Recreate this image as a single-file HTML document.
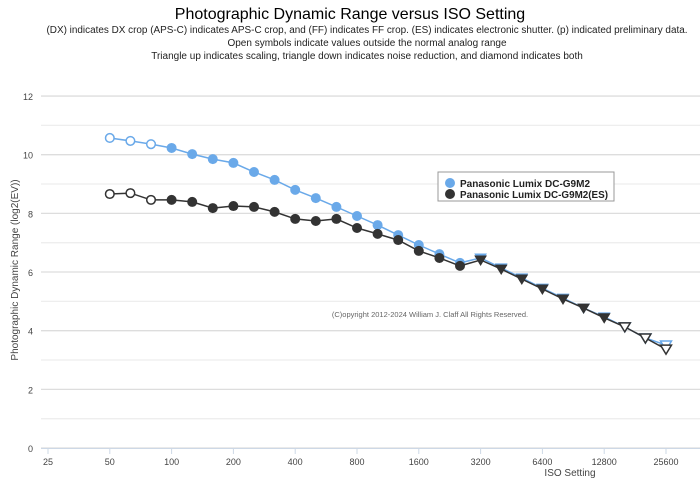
<!DOCTYPE html>
<html><head><meta charset="utf-8"><style>
html,body{margin:0;padding:0;background:#fff;width:700px;height:483px;overflow:hidden}
svg{display:block;font-family:"Liberation Sans",sans-serif}
</style></head><body>
<svg id="s" width="700" height="483" xmlns="http://www.w3.org/2000/svg">
<text x="350" y="19" text-anchor="middle" font-size="16" fill="#000">Photographic Dynamic Range versus ISO Setting</text>
<text x="367" y="33" text-anchor="middle" font-size="10" textLength="641" lengthAdjust="spacingAndGlyphs" fill="#222">(DX) indicates DX crop (APS-C) indicates APS-C crop, and (FF) indicates FF crop. (ES) indicates electronic shutter. (p) indicated preliminary data.</text>
<text x="367" y="46" text-anchor="middle" font-size="10" fill="#222">Open symbols indicate values outside the normal analog range</text>
<text x="367" y="59" text-anchor="middle" font-size="10" fill="#222">Triangle up indicates scaling, triangle down indicates noise reduction, and diamond indicates both</text>
<text transform="translate(18,270) rotate(-90)" text-anchor="middle" font-size="10" fill="#444">Photographic Dynamic Range (log2(EV))</text>
<text x="570" y="476" text-anchor="middle" font-size="10" fill="#444">ISO Setting</text>
<text x="430" y="317" text-anchor="middle" font-size="7.5" fill="#666">(C)opyright 2012-2024 William J. Claff All Rights Reserved.</text>
<g id="g"></g>
<rect x="438" y="172" width="176" height="29" fill="#fff" stroke="#999" stroke-width="1"/>
<circle cx="450" cy="183" r="5" fill="#6aa9e9"/>
<text x="460" y="187" font-size="10" font-weight="bold" fill="#222" textLength="130" lengthAdjust="spacingAndGlyphs">Panasonic Lumix DC-G9M2</text>
<circle cx="450" cy="194" r="5" fill="#333"/>
<text x="460" y="198" font-size="10" font-weight="bold" fill="#222" textLength="148" lengthAdjust="spacingAndGlyphs">Panasonic Lumix DC-G9M2(ES)</text>
</svg>
<script>
var g=document.getElementById('g'),h='';
function Y(v){return 448-v*29.33}
function X(iso){return 48+61.8*Math.log2(iso/25)}
for(var v=0;v<=12;v++){h+='<line x1="41" x2="700" y1="'+Y(v)+'" y2="'+Y(v)+'" stroke="'+(v%2?'#eee':'#ddd')+'" stroke-width="1.3"/>';}
h+='<line x1="41" x2="700" y1="448.5" y2="448.5" stroke="#cdd8e6"/>';
for(v=0;v<=12;v+=2)h+='<text x="33" y="'+(Y(v)+4)+'" text-anchor="end" font-size="9" fill="#444">'+v+'</text>';
var L=[25,50,100,200,400,800,1600,3200,6400,12800,25600];
L.forEach(function(i){var x=X(i);h+='<line x1="'+x+'" x2="'+x+'" y1="449" y2="454" stroke="#cdd8e6"/><text x="'+x+'" y="465" text-anchor="middle" font-size="9" fill="#444">'+i+'</text>';});
var B=[10.57,10.47,10.36,10.23,10.02,9.85,9.72,9.41,9.14,8.80,8.52,8.22,7.91,7.60,7.26,6.92,6.61,6.31,6.48,6.14,5.80,5.45,5.11,4.77,4.47,4.13,3.75,3.51];
var K=[8.66,8.69,8.46,8.46,8.39,8.18,8.25,8.22,8.05,7.81,7.74,7.81,7.50,7.30,7.09,6.72,6.48,6.21,6.41,6.10,5.76,5.42,5.08,4.77,4.44,4.13,3.75,3.37];
function ser(d,col){var p='';d.forEach(function(v,k){p+=(k?'L':'M')+X(50*Math.pow(2,k/3)).toFixed(1)+','+Y(v).toFixed(1)});
h+='<path d="'+p+'" fill="none" stroke="'+col+'" stroke-width="1.5"/>';
d.forEach(function(v,k){var x=X(50*Math.pow(2,k/3)),y=Y(v),open=(k<3||k>=25);
var f=open?'#fff':col,st=open?'stroke="'+col+'" stroke-width="1.5"':'';
if(k<18)h+='<circle cx="'+x+'" cy="'+y+'" r="'+(open?4.3:5)+'" fill="'+f+'" '+st+'/>';
else h+='<path d="M'+(x-5.5)+','+(y-4)+'L'+(x+5.5)+','+(y-4)+'L'+x+','+(y+5)+'Z" fill="'+f+'" '+(open?st:'stroke="'+col+'"')+'/>';});}
ser(B,'#6aa9e9');ser(K,'#333');
g.innerHTML=h;
</script>
</body></html>
